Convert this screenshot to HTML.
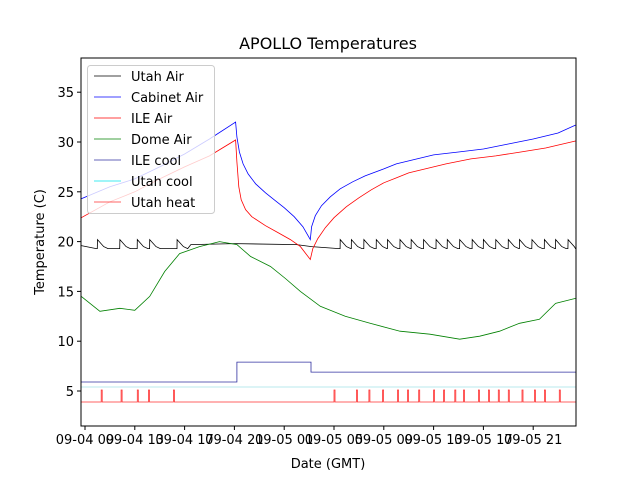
<!DOCTYPE html>
<html><head><meta charset="utf-8"><style>
body{margin:0;background:#fff;font-family:"Liberation Sans","DejaVu Sans",sans-serif}
svg text{font-family:"DejaVu Sans","Liberation Sans",sans-serif}
</style></head><body>
<svg id="c" width="640" height="480" xmlns="http://www.w3.org/2000/svg"></svg>
<script>
const cabinetAir=[[-0.3,24.3],[2,25.5],[4,26.3],[6,27.5],[8,28.8],[10,30.3],[12.1,32],[12.2,30.5],[12.4,29],[12.7,27.8],[13.1,26.8],[13.7,25.8],[14.5,24.9],[15.3,24.1],[16,23.4],[16.8,22.5],[17.5,21.5],[18.1,20.2],[18.2,21.5],[18.5,22.6],[19,23.6],[19.7,24.5],[20.5,25.3],[21.5,26],[22.5,26.6],[24,27.3],[25,27.8],[26,28.1],[28,28.7],[30,29],[32,29.3],[34,29.8],[36,30.3],[38,30.9],[39.4,31.7]];
const ileAir=[[-0.3,22.4],[2,24],[4,25],[6,26.3],[8,27.5],[10,28.6],[12.1,30.2],[12.2,28],[12.35,25.5],[12.55,24.2],[12.9,23.2],[13.4,22.5],[14.5,21.6],[15.5,20.9],[16.5,20.2],[17.3,19.5],[18.1,18.2],[18.3,19.3],[18.7,20.3],[19.3,21.4],[20,22.4],[21,23.5],[22,24.4],[23,25.2],[24,25.9],[25,26.4],[26,26.9],[27,27.2],[29,27.8],[31,28.3],[33,28.6],[35,29],[37,29.4],[39.4,30.1]];
const domeAir=[[-0.3,14.5],[1.2,13],[2.8,13.3],[4,13.1],[5.2,14.5],[6.4,17],[7.6,18.8],[9.2,19.5],[10.8,20],[12.2,19.7],[13.3,18.5],[14.9,17.5],[16.1,16.3],[17.3,15],[18.9,13.5],[20.9,12.5],[22.9,11.8],[25.3,11],[27.7,10.7],[30.1,10.2],[31.7,10.5],[33.3,11],[34.9,11.8],[36.5,12.2],[37.8,13.8],[39.4,14.3]];
const utahAirBase=[[-0.3,19.6],[0.9,19.3],[7.3,19.3],[8.5,19.7],[12,19.8],[17,19.7],[18.2,19.5],[20.4,19.3],[39.4,19.3]];
const utahTeeth=[1.0,2.8,4.2,5.2,7.4,20.5,21.4,22.4,23.4,24.3,25.3,26.2,27.2,28.2,29.1,30.1,31.1,32,33,34,34.9,35.9,36.9,37.8,38.8];
const ileCool=[[-0.3,5.9],[12.2,5.9],[12.2,7.9],[18.15,7.9],[18.15,6.9],[39.4,6.9]];
const utahCool=[[-0.3,5.4],[39.4,5.4]];
const heatBase=3.9, heatOn=5.1;
const heatSpikes=[1.3,2.9,4.2,5.1,7.1,20,21.8,22.8,23.9,25.1,25.9,26.8,28,28.8,29.7,30.4,31.6,32.4,33.2,34,35.1,36.1,36.9,38.1];
const yTicks=[5,10,15,20,25,30,35];
const xTickHours=[0,4,8,12,16,20,24,28,32,36];
const xTickLabels=["09-04 09","09-04 13","09-04 17","09-04 21","09-05 01","09-05 05","09-05 09","09-05 13","09-05 17","09-05 21"];

const NS="http://www.w3.org/2000/svg",svg=document.getElementById('c');
const L=81,R=576,T=58,B=426;
const X=h=>85+h*12.45, Y=v=>391-(v-5)*9.96;
function mk(t,a,p){const e=document.createElementNS(NS,t);for(const k in a)e.setAttribute(k,a[k]);(p||svg).appendChild(e);return e;}
function line(pts,color,name,w){const e=mk('polyline',{points:pts.map(p=>X(p[0]).toFixed(1)+','+Y(p[1]).toFixed(1)).join(' '),fill:'none',stroke:color,'stroke-width':w||0.8});

return e;}
const clip=mk('clipPath',{id:'cp'});mk('rect',{x:L,y:T,width:R-L,height:B-T},clip);
let ua=[];utahAirBase.forEach(p=>ua.push(p));
utahTeeth.forEach(t=>{ua.push([t-0.01,19.3]);ua.push([t,20.2]);ua.push([t+0.5,19.5]);ua.push([t+0.85,19.3]);});
ua.sort((a,b)=>a[0]-b[0]);
let hp=[[-0.3,heatBase]];heatSpikes.forEach(t=>{hp.push([t,heatBase],[t,heatOn],[t+0.08,heatOn],[t+0.08,heatBase]);});hp.push([39.4,heatBase]);
const g=mk('g',{'clip-path':'url(#cp)'});
[[ua,'#000','utah-air-line'],[cabinetAir,'#0000ff','cabinet-air-line'],[ileAir,'#ff0000','ile-air-line'],[domeAir,'#008000','dome-air-line'],[ileCool,'#3030a0','ile-cool-line'],[utahCool,'#a0e0e8','utah-cool-line'],[hp,'#ff3030','utah-heat-line']].forEach(s=>{const e=line(s[0],s[1],s[2]);g.appendChild(e);});
mk('rect',{x:L,y:T,width:R-L,height:B-T,fill:'none',stroke:'#000','stroke-width':1});
yTicks.forEach(v=>{mk('line',{x1:L-4,x2:L,y1:Y(v),y2:Y(v),stroke:'#000'});const t=mk('text',{x:L-7,y:Y(v)+5,'text-anchor':'end','font-size':13});t.textContent=v;

});
xTickHours.forEach((h,i)=>{mk('line',{x1:X(h),x2:X(h),y1:B,y2:B+4,stroke:'#000'});const t=mk('text',{x:X(h),y:B+18,'text-anchor':'middle','font-size':13});t.textContent=xTickLabels[i];

});
let t=mk('text',{x:328,y:49,'text-anchor':'middle','font-size':16});t.textContent='APOLLO Temperatures';


t=mk('text',{x:328,y:468,'text-anchor':'middle','font-size':13});t.textContent='Date (GMT)';


t=mk('text',{x:44,y:242,'text-anchor':'middle','font-size':13,transform:'rotate(-90 44 242)'});t.textContent='Temperature (C)';


const lg=mk('g',{});


mk('rect',{x:87.5,y:65.5,width:127,height:148,rx:3,fill:'rgba(255,255,255,0.8)',stroke:'#ccc'},lg);
[['Utah Air','#000'],['Cabinet Air','#0000ff'],['ILE Air','#ff0000'],['Dome Air','#008000'],['ILE cool','#3030a0'],['Utah cool','#00e5ee'],['Utah heat','#ff3030']].forEach((e,i)=>{const y=76+i*21;
mk('line',{x1:94,x2:121,y1:y,y2:y,stroke:e[1],'stroke-width':0.8},lg);
const tx=mk('text',{x:131,y:y+5,'font-size':13},lg);tx.textContent=e[0];

});
</script>
</body></html>
